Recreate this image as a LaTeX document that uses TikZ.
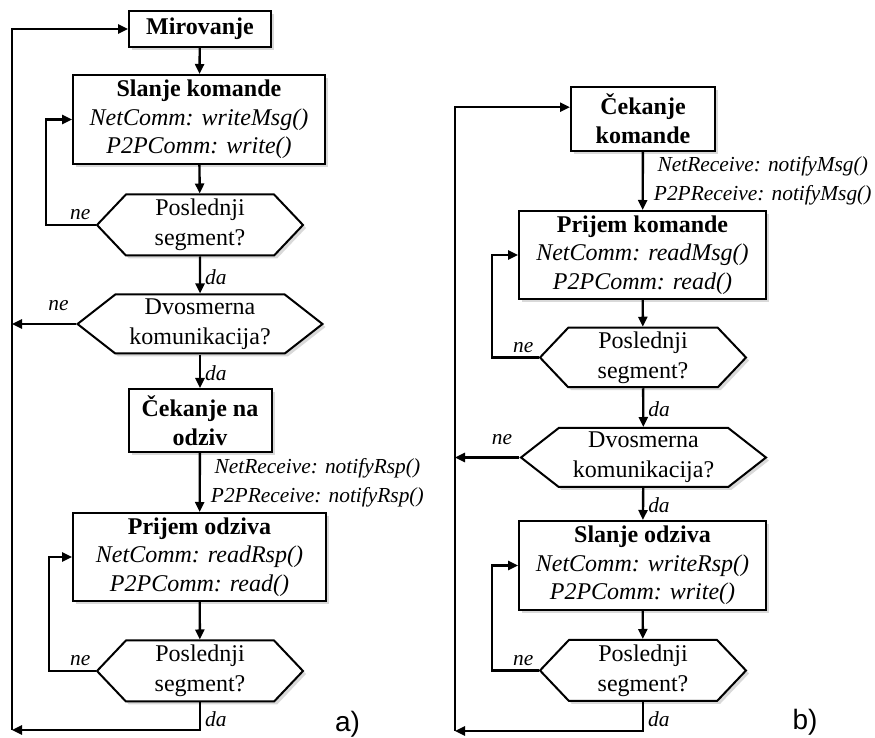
\documentclass[tikz,border=0pt]{standalone}
\usepackage{fontspec}
\setmainfont{Liberation Serif}
\newfontfamily\slovofont{Liberation Sans}
\usetikzlibrary{shapes.symbols,shadows,arrows.meta}

\tikzset{
  senka/.style={drop shadow={shadow xshift=1.5pt, shadow yshift=-1.5pt, opacity=0.3}},
  kutija/.style={draw, line width=1pt, fill=white, align=center, inner sep=0pt,
    font=\fontsize{12}{14.25}\selectfont, senka},
  odluka/.style={signal, signal to=west and east, signal pointer angle=93,
    draw, line width=1pt, fill=white, align=center, inner sep=0pt,
    font=\fontsize{12}{15}\selectfont, senka},
  strelica/.style={line width=1.2pt, -{Triangle[length=5pt,width=4.5pt]}},
  oznaka/.style={font=\fontsize{10.7}{14.5}\selectfont\itshape, inner sep=2pt},
}

\begin{document}
\begin{tikzpicture}[x=0.5pt,y=-0.5pt]
  \useasboundingbox (0,0) rectangle (875,738);

  % Tacke za povratne linije
  \coordinate (levo) at (12,0);
  \coordinate (krajA) at (12,730);
  \coordinate (petljaA1) at (46,0);
  \coordinate (petljaA2) at (49,0);
  \coordinate (levoB) at (455,0);
  \coordinate (krajB) at (455,731);
  \coordinate (petljaB) at (492,0);

  % Dijagram a)
  \node[kutija, minimum width=71pt, minimum height=18pt] (mir) at (200,29) {\textbf{Mirovanje}};
  \node[kutija, minimum width=126pt, minimum height=44.5pt] (slk) at (199,119.5)
    {\textbf{Slanje komande}\\\textit{NetComm: writeMsg()}\\\textit{P2PComm: write()}};
  \node[odluka, minimum width=103pt, minimum height=30.5pt] (od1) at (200,225) {Poslednji\\segment?};
  \node[odluka, signal pointer angle=76, minimum width=122.5pt, minimum height=29.5pt] (od2) at (200,324)
    {Dvosmerna\\komunikacija?};
  \node[kutija, minimum width=71.5pt, minimum height=31.5pt] (cek) at (200,420.5) {\textbf{Čekanje na}\\\textbf{odziv}};
  \node[kutija, minimum width=126.5pt, minimum height=44pt] (pro) at (199.5,557)
    {\textbf{Prijem odziva}\\\textit{NetComm: readRsp()}\\\textit{P2PComm: read()}};
  \node[odluka, minimum width=103pt, minimum height=30.5pt] (od3) at (200,671) {Poslednji\\segment?};

  \draw[strelica] (mir) -- (slk);
  \draw[strelica] (slk) -- (od1);
  \draw[strelica] (od1) -- node[oznaka, right, pos=0.55] {da} (od2);
  \draw[strelica] (od2) -- node[oznaka, right, pos=0.55] {da} (cek);
  \draw[strelica] (cek) -- node[oznaka, right, align=center, inner sep=5pt]
    {NetReceive: notifyRsp()\\P2PReceive: notifyRsp()} (pro);
  \draw[strelica] (pro) -- (od3);

  \draw[strelica] (od1.west) node[oznaka, above left] {ne}
    -- (od1.west -| petljaA1) |- (slk.west);
  \draw[strelica] (od2.west) node[oznaka, above left, xshift=-1pt, yshift=4pt] {ne}
    -- (od2.west -| levo);
  \draw[strelica] (od3.west) node[oznaka, above left] {ne}
    -- (od3.west -| petljaA2) |- (pro.west);
  \draw[strelica] (od3.south) |- node[oznaka, right, pos=0.3] {da} (krajA);
  \draw[strelica] (krajA) |- (mir.west);
  \node[font=\slovofont\fontsize{14}{16}\selectfont] (natA) at (347.5,724) {a)};

  % Dijagram b)
  \node[kutija, minimum width=72pt, minimum height=32pt] (cekk) at (643,118.7) {\textbf{Čekanje}\\\textbf{komande}};
  \node[kutija, minimum width=123.5pt, minimum height=44pt] (prk) at (642.5,255)
    {\textbf{Prijem komande}\\\textit{NetComm: readMsg()}\\\textit{P2PComm: read()}};
  \node[odluka, minimum width=103pt, minimum height=29.75pt] (od4) at (643,357.5) {Poslednji\\segment?};
  \node[odluka, signal pointer angle=76, minimum width=122.5pt, minimum height=29.5pt] (od5) at (643.5,457.5)
    {Dvosmerna\\komunikacija?};
  \node[kutija, minimum width=123.5pt, minimum height=44.5pt] (slo) at (642.5,565.5)
    {\textbf{Slanje odziva}\\\textit{NetComm: writeRsp()}\\\textit{P2PComm: write()}};
  \node[odluka, minimum width=103pt, minimum height=30.5pt] (od6) at (643,670.5) {Poslednji\\segment?};

  \draw[strelica] (cekk) -- node[oznaka, right, align=center, inner sep=5pt]
    {NetReceive: notifyMsg()\\P2PReceive: notifyMsg()} (prk);
  \draw[strelica] (prk) -- (od4);
  \draw[strelica] (od4) -- node[oznaka, right, pos=0.55] {da} (od5);
  \draw[strelica] (od5) -- node[oznaka, right, pos=0.55] {da} (slo);
  \draw[strelica] (slo) -- (od6);

  \draw[strelica] (od4.west) node[oznaka, above left] {ne}
    -- (od4.west -| petljaB) |- (prk.west);
  \draw[strelica] (od5.west) node[oznaka, above left, xshift=-1pt, yshift=4pt] {ne}
    -- (od5.west -| levoB);
  \draw[strelica] (od6.west) node[oznaka, above left] {ne}
    -- (od6.west -| petljaB) |- (slo.west);
  \draw[strelica] (od6.south) |- node[oznaka, right, pos=0.3] {da} (krajB);
  \draw[strelica] (krajB) |- ([yshift=5.75pt]cekk.west);
  \node[font=\slovofont\fontsize{14}{16}\selectfont] (natB) at (805,722) {b)};
\end{tikzpicture}
\end{document}
